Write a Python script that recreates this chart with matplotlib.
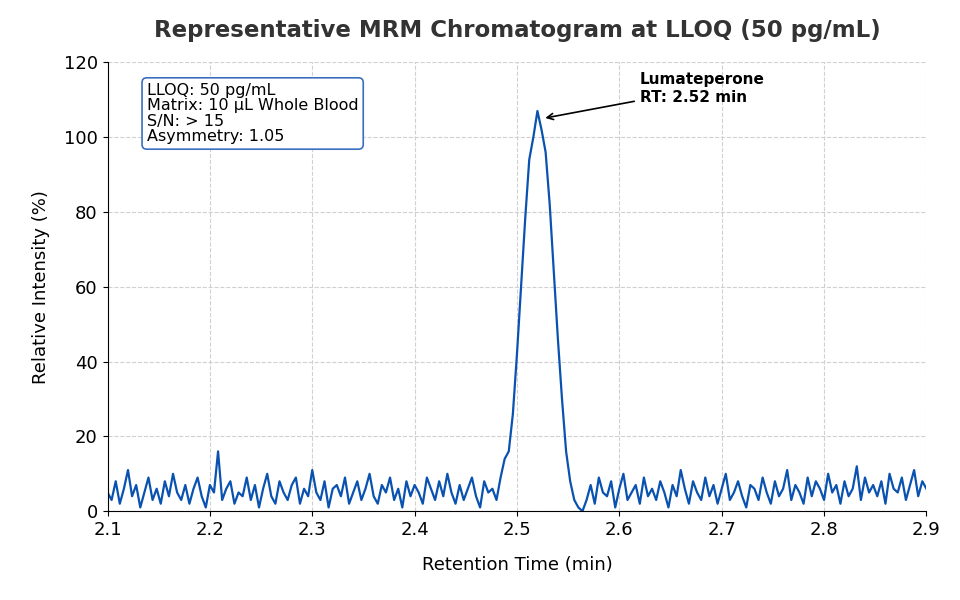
import matplotlib
matplotlib.use("Agg")
import matplotlib.pyplot as plt
import numpy as np

t_start, t_step = 2.1, 0.004
baseline_a = [5,3,8,2,6,11,4,7,1,5,9,3,6,2,8,4,10,5,3,7,
2,6,9,4,1,7,5,16,3,6,8,2,5,4,9,3,7,1,6,10,
4,2,8,5,3,7,9,2,6,4,11,5,3,8,1,6,7,4,9,2,
5,8,3,6,10,4,2,7,5,9,3,6,1,8,4,7,5,2,9,6,
3,8,4,10,5,2,7,3,6,9,4,1,8,5,6]
peak = [3,9,14,16,26,42,60,78,94,100,107,102,96,82,64,46,30,16,8,3,1]
baseline_b = [0,3,7,2,9,5,4,8,1,6,10,3,5,7,2,9,4,6,3,8,
5,1,7,4,11,6,2,8,5,3,9,4,7,2,6,10,3,5,8,4,
1,7,6,3,9,5,2,8,4,6,11,3,7,5,2,9,4,8,6,3,
10,5,7,2,8,4,6,12,3,9,5,7,4,8,2,10,6,5,9,3,
7,11,4,8,6]
intensity = baseline_a + peak + baseline_b
times = t_start + t_step * np.arange(len(intensity))

fig = plt.figure(figsize=(9.6, 6), dpi=100)
ax = fig.add_axes([0.112, 0.148, 0.853, 0.748])
ax.plot(times, intensity, color="#0a52b0", lw=1.6)
ax.set_xlim(2.1, 2.9)
ax.set_ylim(0, 120)
ax.set_xticks(np.arange(2.1, 2.91, 0.1))
ax.set_yticks(range(0, 121, 20))
ax.tick_params(labelsize=13)
ax.grid(True, ls="--", color="#d0d0d0", lw=0.8)
for s in ["top", "right"]:
    ax.spines[s].set_visible(False)
ax.set_xlabel("Retention Time (min)", fontsize=13, labelpad=12)
ax.set_ylabel("Relative Intensity (%)", fontsize=13, labelpad=10)
ax.set_title("Representative MRM Chromatogram at LLOQ (50 pg/mL)", fontsize=16.5,
             fontweight="bold", color="#333333", pad=18)
ax.annotate("Lumateperone\nRT: 2.52 min", xy=(2.525, 105), xytext=(2.62, 113),
            fontsize=11, fontweight="bold", va="center",
            arrowprops=dict(arrowstyle="->", color="black", lw=1.2))
ax.text(0.048, 0.955, "LLOQ: 50 pg/mL\nMatrix: 10 µL Whole Blood\nS/N: > 15\nAsymmetry: 1.05",
        transform=ax.transAxes, fontsize=11.5, va="top", linespacing=1.05,
        bbox=dict(boxstyle="round,pad=0.3", fc="white", ec="#3a6fc0", lw=1.2))
fig.savefig("out.png")
